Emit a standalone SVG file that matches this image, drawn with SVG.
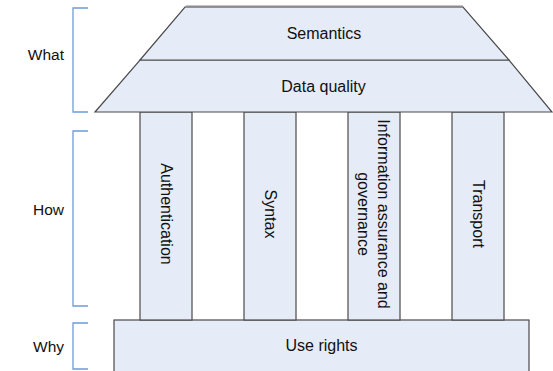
<svg xmlns="http://www.w3.org/2000/svg" width="553" height="371" viewBox="0 0 553 371">
<style>
.shape{fill:#E6ECF7;stroke:#4a4a4a;stroke-width:1.2}
.lbl{font-family:"Liberation Sans",Arial,sans-serif;font-size:16px;fill:#111;text-anchor:middle;dominant-baseline:central}
.side{font-family:"Liberation Sans",Arial,sans-serif;font-size:15.5px;fill:#111;text-anchor:end;dominant-baseline:central}
.br{fill:none;stroke:#6f9bd8;stroke-width:1.3}
</style>
<rect width="553" height="371" fill="#fff"/>
<g id="labels">
<text class="side" x="64" y="54">What</text>
<text class="side" x="64" y="209">How</text>
<text class="side" x="64" y="346">Why</text>
</g>
<g id="brackets">
<path class="br" d="M88,8 H73 V112 H88"/>
<path class="br" d="M88,131 H73 V306 H88"/>
<path class="br" d="M88,323 H73 V369 H88"/>
</g>
<g id="use-rights">
<rect class="shape" x="114" y="320" width="415" height="60"/>
<text class="lbl" x="321.5" y="345">Use rights</text>
</g>
<g id="authentication">
<rect class="shape" x="140" y="112" width="52" height="208"/>
<text class="lbl" transform="translate(166,214) rotate(90)">Authentication</text>
</g>
<g id="syntax">
<rect class="shape" x="244" y="112" width="52" height="208"/>
<text class="lbl" transform="translate(270,214) rotate(90)">Syntax</text>
</g>
<g id="information-assurance">
<rect class="shape" x="348" y="112" width="52" height="208"/>
<text class="lbl" transform="translate(374,214) rotate(90)"><tspan x="0" y="-10">Information assurance and</tspan><tspan x="0" y="10">governance</tspan></text>
</g>
<g id="transport">
<rect class="shape" x="452" y="112" width="52" height="208"/>
<text class="lbl" transform="translate(478,214) rotate(90)">Transport</text>
</g>
<g id="data-quality">
<path class="shape" d="M140,60 L509,60 L552,112 L95,112 Z"/>
<text class="lbl" x="323.5" y="86">Data quality</text>
</g>
<g id="semantics">
<path class="shape" d="M185,7 L463,7 L509,60 L140,60 Z"/>
<line x1="186" y1="6.5" x2="463" y2="6.5" stroke="#8c8c8c" stroke-width="2"/>
<text class="lbl" x="324" y="33">Semantics</text>
</g>
</svg>
